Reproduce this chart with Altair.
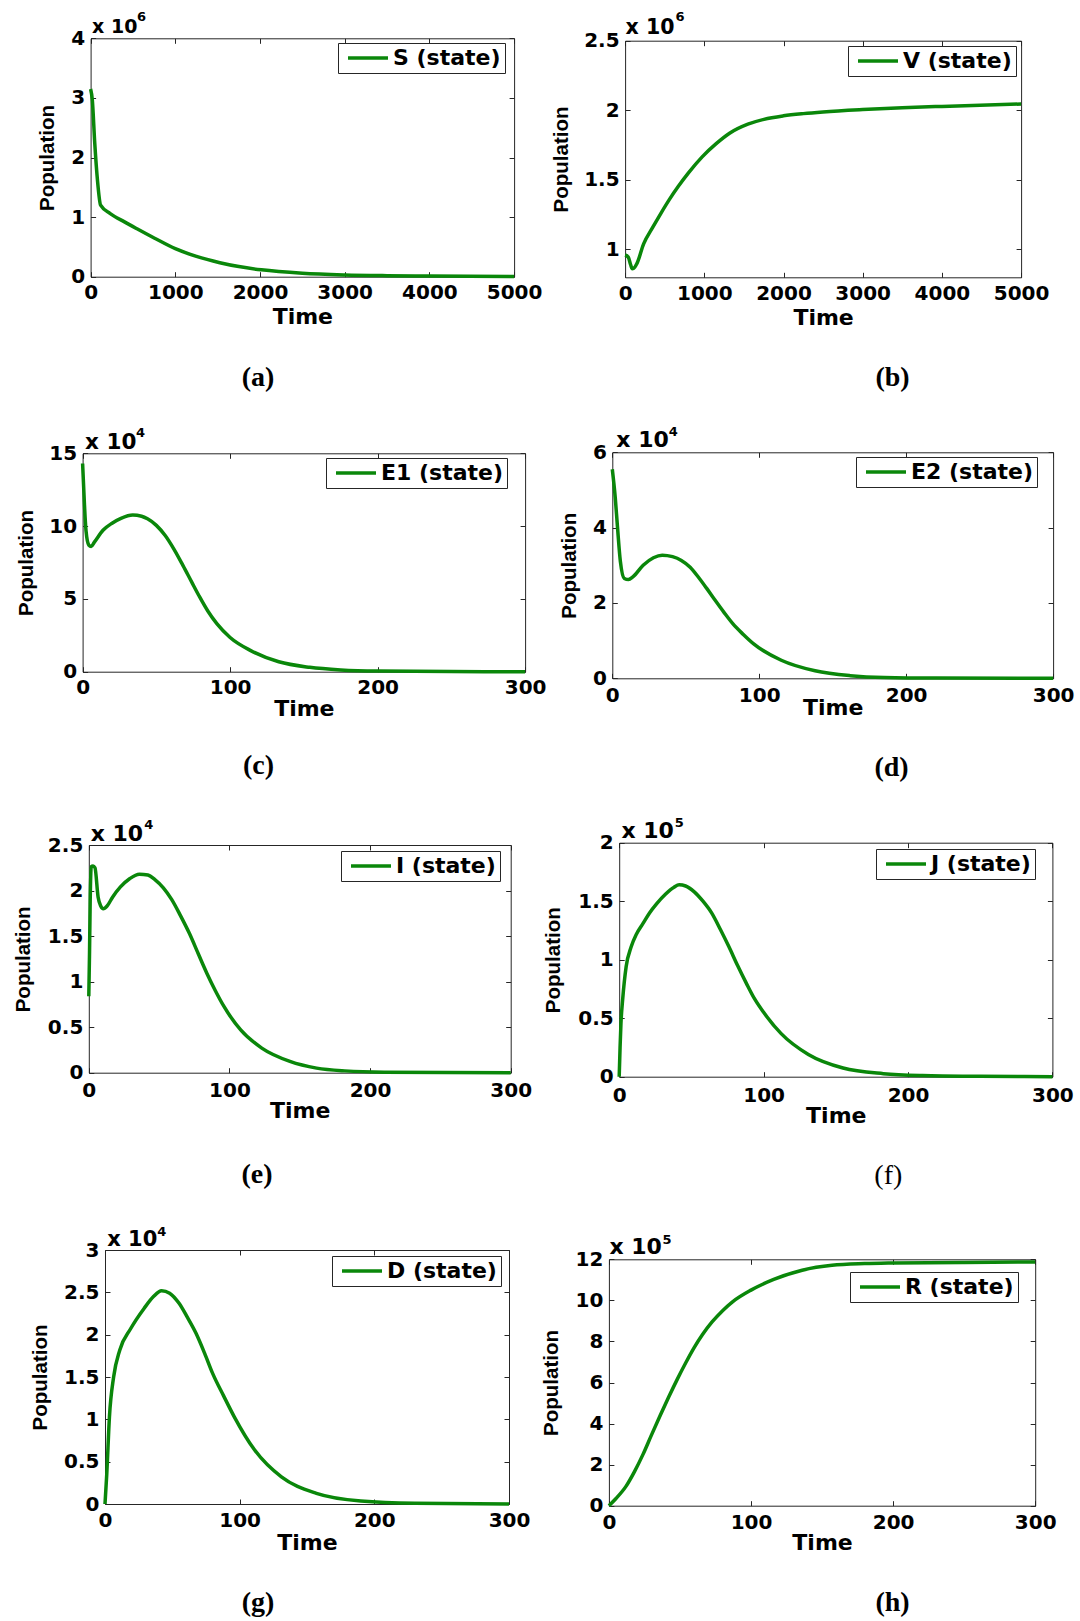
import altair as alt
import pandas as pd

W, H = 1080, 1621
GREEN = "#0a870a"
AXC = "#262626"
FONT = "DejaVu Sans"
ARIAL = "Liberation Sans"
SERIF = "Liberation Serif"

# ---------------- data ----------------
S_T = [0, 20, 49, 81, 118, 232, 400, 553, 750, 1000, 1250, 1526, 1750, 2016, 2500, 3000, 3500, 4000, 5000]
S_V = [3.15, 2.97, 2.24, 1.62, 1.2, 1.06, 0.92, 0.8, 0.65, 0.47, 0.34, 0.235, 0.17, 0.115, 0.058, 0.03, 0.017, 0.01, 0.005]

V_T = [0, 40, 70, 90, 110, 150, 234, 350, 452, 560, 668, 800, 973, 1150, 1319, 1550, 1753, 2000, 2250, 2500, 3000, 3500, 4000, 5000]
V_V = [0.96, 0.945, 0.89, 0.862, 0.865, 0.9, 1.04, 1.16, 1.26, 1.36, 1.45, 1.55, 1.665, 1.76, 1.835, 1.9, 1.935, 1.96, 1.976, 1.988, 2.005, 2.018, 2.028, 2.045]

E1_T = [0, 1.2, 2.3, 4.2, 5.8, 8, 14, 20, 26, 34, 40, 44, 50, 56, 62, 68, 74, 79, 85, 91, 100, 114, 133, 154, 175, 200, 250, 300]
E1_V = [14.3, 11.6, 9.7, 8.7, 8.6, 8.9, 9.73, 10.2, 10.53, 10.76, 10.68, 10.5, 10.05, 9.35, 8.4, 7.3, 6.15, 5.2, 4.15, 3.3, 2.35, 1.45, 0.68, 0.3, 0.12, 0.04, 0.01, 0.0]

E2_T = [0, 2, 3.5, 5.5, 8.2, 11, 14, 21, 28, 34, 41, 47, 53, 58.5, 64, 70, 76, 82, 89, 96, 115, 138, 162, 185, 220, 300]
E2_V = [5.55, 4.8, 4.03, 3.1, 2.65, 2.62, 2.69, 3.0, 3.2, 3.27, 3.23, 3.13, 2.95, 2.69, 2.4, 2.07, 1.75, 1.45, 1.17, 0.92, 0.48, 0.2, 0.07, 0.02, 0.005, 0.0]

I_T = [0, 0.5, 1, 1.7, 3, 4.4, 6.6, 8.5, 10.3, 13, 17, 22.5, 29, 36, 42, 47, 53, 59, 65, 71.5, 78, 84, 90, 96, 108, 123, 143, 162, 182, 210, 300]
I_V = [0.84, 1.3, 1.9, 2.26, 2.27, 2.25, 1.93, 1.83, 1.8, 1.83, 1.93, 2.04, 2.13, 2.18, 2.17, 2.12, 2.03, 1.9, 1.73, 1.53, 1.3, 1.09, 0.9, 0.73, 0.47, 0.27, 0.124, 0.05, 0.02, 0.006, 0.0]

J_T = [0, 0.6, 1.2, 2.4, 4.8, 8.3, 12, 16.5, 21, 26, 32, 38, 41.5, 46, 52, 58, 64, 70, 76, 82, 88, 94, 100, 112, 131, 155, 183, 210, 250, 300]
J_V = [0, 0.25, 0.45, 0.66, 0.94, 1.11, 1.22, 1.31, 1.4, 1.48, 1.56, 1.62, 1.64, 1.63, 1.58, 1.5, 1.4, 1.26, 1.11, 0.95, 0.8, 0.66, 0.55, 0.37, 0.19, 0.074, 0.026, 0.01, 0.003, 0.0]

D_T = [0, 1.3, 3.3, 6.4, 11, 19, 29, 36, 42, 48, 55, 61, 67.5, 74, 80, 88, 96, 111, 131, 157, 190, 230, 300]
D_V = [0, 0.35, 1.03, 1.5, 1.82, 2.07, 2.31, 2.45, 2.52, 2.49, 2.37, 2.21, 2.02, 1.78, 1.54, 1.28, 1.03, 0.64, 0.32, 0.126, 0.035, 0.008, 0.0]

R_T = [0, 5, 12, 18, 24, 30, 36, 42, 48, 54, 60, 66, 72.6, 80, 87, 100, 116, 136, 157, 180, 200, 250, 300]
R_V = [0, 0.35, 0.94, 1.66, 2.5, 3.45, 4.38, 5.28, 6.14, 6.95, 7.7, 8.35, 8.95, 9.5, 9.93, 10.5, 11.02, 11.47, 11.71, 11.79, 11.82, 11.85, 11.87]

SERIES = ["S (state)", "V (state)", "E1 (state)", "E2 (state)", "I (state)", "J (state)", "D (state)", "R (state)"]
CAPTIONS = ["(a)", "(b)", "(c)", "(d)", "(e)", "(f)", "(g)", "(h)"]
EXPONENTS = ["6", "6", "4", "4", "4", "5", "4", "5"]
X_LONG = [0, 1000, 2000, 3000, 4000, 5000]
X_SHORT = [0, 100, 200, 300]

# ---------------- layout (pixels) ----------------
panels = [
    dict(t=S_T, v=S_V, box=(90.6, 514.1, 38.3, 276.7), xdom=[0, 5000], xt=X_LONG, ydom=[0, 4], yt=[0, 1, 2, 3, 4],
         x10=(1, -6, 19), sup=(46, -18.3), cap=(257.6, 385, "bold"), leg=(338, 43), xlp=6, xtp=3.3, ytp=13),
    dict(t=V_T, v=V_V, box=(625.1, 1021.1, 40.7, 277.3), xdom=[0, 5000], xt=X_LONG, ydom=[0.8, 2.5], yt=[1, 1.5, 2, 2.5],
         x10=(0, -7.4, 20.5), sup=(50, -20.7), cap=(892, 385, "bold"), leg=(848, 46), xlp=6.5, xtp=3.2, ytp=12),
    dict(t=E1_T, v=E1_V, box=(82.6, 525.1, 453.3, 671.7), xdom=[0, 300], xt=X_SHORT, ydom=[0, 15], yt=[0, 5, 10, 15],
         x10=(2, -5, 21.5), sup=(53, -16.6), cap=(258, 773, "bold"), leg=(326, 458), xlp=5.4, xtp=1.6, ytp=12),
    dict(t=E2_T, v=E2_V, box=(612.3, 1053.1, 452.3, 678.3), xdom=[0, 300], xt=X_SHORT, ydom=[0, 6], yt=[0, 2, 4, 6],
         x10=(3.5, -5.6, 22), sup=(56, -17), cap=(891, 775, "bold"), leg=(856, 457), xlp=7.2, xtp=-8, ytp=12.8),
    dict(t=I_T, v=I_V, box=(88.8, 510.7, 845.0, 1072.7), xdom=[0, 300], xt=X_SHORT, ydom=[0, 2.5], yt=[0, 0.5, 1, 1.5, 2, 2.5],
         x10=(1.4, -5, 22), sup=(55, -16.7), cap=(256.5, 1182, "bold"), leg=(341, 851), xlp=7.8, xtp=0, ytp=13.8),
    dict(t=J_T, v=J_V, box=(619.2, 1052.4, 842.7, 1076.7), xdom=[0, 300], xt=X_SHORT, ydom=[0, 2], yt=[0, 0.5, 1, 1.5, 2],
         x10=(1.7, -5.4, 22), sup=(55, -16), cap=(887.8, 1183, "normal"), leg=(876, 849), xlp=8.8, xtp=0, ytp=13.8),
    dict(t=D_T, v=D_V, box=(105.0, 509.0, 1250.0, 1504.0), xdom=[0, 300], xt=X_SHORT, ydom=[0, 3], yt=[0, 0.5, 1, 1.5, 2, 2.5, 3],
         x10=(1.7, -5, 21), sup=(51.7, -15), cap=(257.6, 1610, "bold"), leg=(332, 1256), xlp=6.5, xtp=1.5, ytp=13),
    dict(t=R_T, v=R_V, box=(608.9, 1035.2, 1259.3, 1505.7), xdom=[0, 300], xt=X_SHORT, ydom=[0, 12], yt=[0, 2, 4, 6, 8, 10, 12],
         x10=(0, -6, 22), sup=(53, -16), cap=(892, 1610, "bold"), leg=(850, 1272), xlp=6.4, xtp=0, ytp=13.7),
]

layers = []
for i, p in enumerate(panels):
    x0, x1, y0, y1 = p["box"]
    df = pd.DataFrame({"t": p["t"], "v": p["v"], "series": SERIES[i]})
    xs = alt.Scale(domain=p["xdom"], range=[x0, x1], nice=False, zero=False)
    ys = alt.Scale(domain=p["ydom"], range=[y1, y0], nice=False, zero=False)
    base = alt.Chart(df)

    line = base.mark_line(strokeWidth=3.5, interpolate="monotone").encode(
        x=alt.X("t:Q", scale=xs, axis=alt.Axis(
            orient="bottom", offset=y1 - H, values=p["xt"], format="~f", grid=False,
            ticks=False, tickSize=0, domain=True, domainColor=AXC, labelFlush=False, labelOverlap=False,
            labelFont=FONT, labelFontWeight="bold", labelFontSize=20, labelColor="black",
            labelPadding=p["xlp"], title="Time", titleFont=FONT, titleFontWeight="bold",
            titleFontSize=22, titleColor="black", titlePadding=p["xtp"])),
        y=alt.Y("v:Q", scale=ys, axis=alt.Axis(
            orient="left", offset=-x0, values=p["yt"], format="~f", grid=False,
            ticks=False, tickSize=0, domain=True, domainColor=AXC, labelFlush=False, labelOverlap=False,
            labelFont=FONT, labelFontWeight="bold", labelFontSize=20, labelColor="black",
            labelPadding=6, title="Population", titleFont=ARIAL, titleFontWeight="bold",
            titleFontSize=20.5, titleColor="black", titlePadding=p["ytp"])),
        color=alt.Color("series:N", scale=alt.Scale(range=[GREEN]), legend=alt.Legend(
            orient="none", legendX=p["leg"][0], legendY=p["leg"][1], title="",
            symbolType="stroke", symbolSize=1600, symbolStrokeWidth=3.5, clipHeight=22,
            symbolOffset=4, labelOffset=3, padding=4,
            labelFont=FONT, labelFontWeight="bold", labelFontSize=22, labelColor="black",
            strokeColor=AXC, fillColor="white")),
    )

    sx, sy = p["sup"]
    inner = base.mark_line(opacity=0).encode(
        x=alt.X("t:Q", scale=xs, axis=alt.Axis(
            orient="top", offset=-y1, values=p["xt"], grid=False, labels=False, domain=False,
            ticks=True, tickSize=5, tickColor=AXC, title="")),
        y=alt.Y("v:Q", scale=ys, axis=alt.Axis(
            orient="right", offset=x0 - W, values=p["yt"], grid=False, labels=False, domain=False,
            ticks=True, tickSize=5, tickColor=AXC, title=EXPONENTS[i], titleX=sx, titleY=y0 + sy,
            titleAngle=0, titleAlign="left", titleBaseline="alphabetic", titleFont=FONT,
            titleFontWeight="bold", titleFontSize=13, titleColor="black")),
    )

    cx, cy, cw = p["cap"]
    dx, dy, fs = p["x10"]
    box = base.mark_line(opacity=0).encode(
        x=alt.X("t:Q", scale=xs, axis=alt.Axis(
            orient="bottom", offset=y0 - H, values=p["xt"], grid=False, labels=False, domain=True,
            domainColor=AXC, ticks=True, tickSize=5, tickColor=AXC, title=CAPTIONS[i],
            titleX=cx, titleY=cy - y0, titleAngle=0, titleAlign="center", titleBaseline="alphabetic",
            titleFont=SERIF, titleFontWeight=cw, titleFontSize=28, titleColor="black")),
        y=alt.Y("v:Q", scale=ys, axis=alt.Axis(
            orient="left", offset=-x1, values=p["yt"], grid=False, labels=False, domain=True,
            domainColor=AXC, ticks=True, tickSize=5, tickColor=AXC, title="x 10",
            titleX=x0 + dx - x1, titleY=y0 + dy, titleAngle=0, titleAlign="left",
            titleBaseline="alphabetic", titleFont=FONT, titleFontWeight="bold",
            titleFontSize=fs, titleColor="black")),
    )
    layers += [line, inner, box]

chart = alt.layer(*layers).resolve_scale(
    x="independent", y="independent", color="independent"
).resolve_axis(
    x="independent", y="independent"
).resolve_legend(
    color="independent"
).properties(
    width=W, height=H, padding=0, autosize=alt.AutoSizeParams(type="none"),
    background="white",
).configure_view(strokeWidth=0)

chart.save("out.html", embed_options={"renderer": "svg", "actions": False})
